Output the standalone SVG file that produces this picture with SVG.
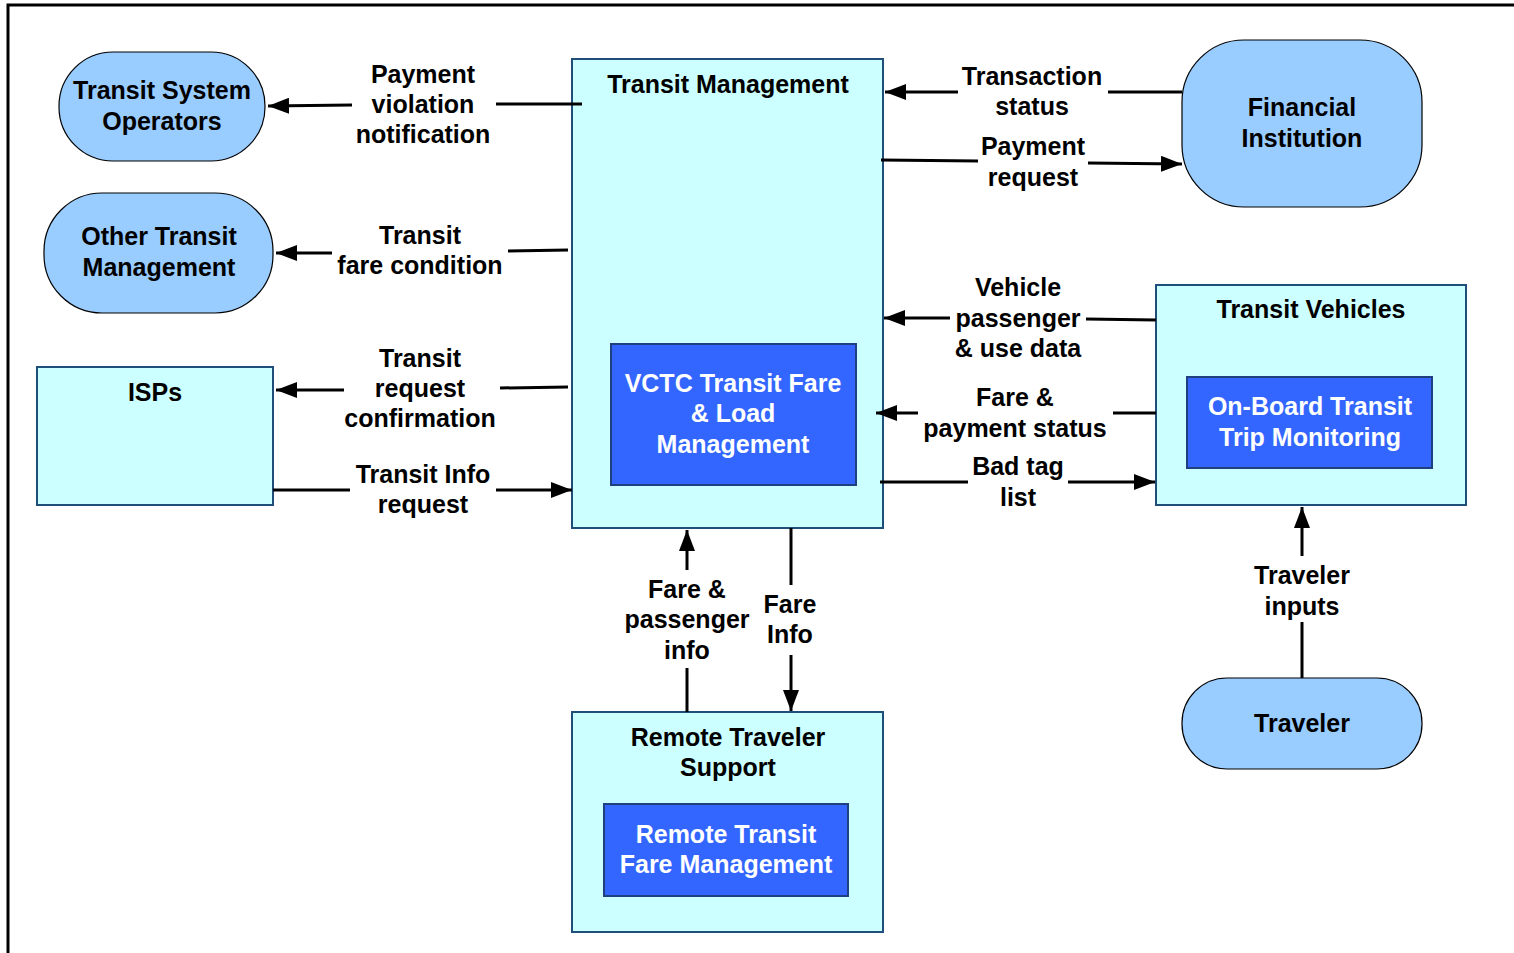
<svg xmlns="http://www.w3.org/2000/svg" width="1514" height="953" viewBox="0 0 1514 953">
<defs>
<marker id="arr" viewBox="0 0 21 16" refX="21" refY="8" markerWidth="21" markerHeight="16" markerUnits="userSpaceOnUse" orient="auto">
<path d="M0,0 L21,8 L0,16 z" fill="#000"/>
</marker>
<style>
.term{fill:#99CCFF;stroke:#000;stroke-width:1.2}
.sys{fill:#CCFFFF;stroke:#1F4E79;stroke-width:2}
.sub{fill:#3366FF;stroke:#1F3F7F;stroke-width:2}
.t{font-family:"Liberation Sans",Arial,sans-serif;font-weight:bold;font-size:25px;text-anchor:middle;fill:#000}
.w{fill:#fff}
.c line{stroke:#000;stroke-width:3}
</style>
</defs>
<rect width="1514" height="953" fill="#fff"/>
<path d="M8,953 L8,5 L1514,5" fill="none" stroke="#000" stroke-width="3"/>

<g id="tso">
<rect class="term" x="59" y="52" width="206" height="109" rx="54" ry="54"/>
<text class="t" x="162" y="99">Transit System</text>
<text class="t" x="162" y="130">Operators</text>
</g>
<g id="otm">
<rect class="term" x="44" y="193" width="229" height="120" rx="58" ry="58"/>
<text class="t" x="159" y="245">Other Transit</text>
<text class="t" x="159" y="276">Management</text>
</g>
<g id="isps">
<rect class="sys" x="37" y="367" width="236" height="138"/>
<text class="t" x="155" y="401">ISPs</text>
</g>
<g id="tm">
<rect class="sys" x="572" y="59" width="311" height="469"/>
<text class="t" x="728" y="93">Transit Management</text>
<g id="vctc">
<rect class="sub" x="611" y="344" width="245" height="141"/>
<text class="t w" x="733" y="392">VCTC Transit Fare</text>
<text class="t w" x="733" y="422">&amp; Load</text>
<text class="t w" x="733" y="453">Management</text>
</g>
</g>
<g id="fi">
<rect class="term" x="1182" y="40" width="240" height="167" rx="62" ry="62"/>
<text class="t" x="1302" y="116">Financial</text>
<text class="t" x="1302" y="147">Institution</text>
</g>
<g id="tv">
<rect class="sys" x="1156" y="285" width="310" height="220"/>
<text class="t" x="1311" y="318">Transit Vehicles</text>
<g id="obtm">
<rect class="sub" x="1187" y="377" width="245" height="91"/>
<text class="t w" x="1310" y="415">On-Board Transit</text>
<text class="t w" x="1310" y="446">Trip Monitoring</text>
</g>
</g>
<g id="traveler">
<rect class="term" x="1182" y="678" width="240" height="91" rx="45" ry="45"/>
<text class="t" x="1302" y="732">Traveler</text>
</g>
<g id="rts">
<rect class="sys" x="572" y="712" width="311" height="220"/>
<text class="t" x="728" y="746">Remote Traveler</text>
<text class="t" x="728" y="776">Support</text>
<g id="rtfm">
<rect class="sub" x="604" y="804" width="244" height="92"/>
<text class="t w" x="726" y="843">Remote Transit</text>
<text class="t w" x="726" y="873">Fare Management</text>
</g>
</g>

<g id="connectors" class="c">
<line x1="582" y1="104" x2="496" y2="104"/>
<line x1="352" y1="105" x2="268" y2="106" marker-end="url(#arr)"/>
<line x1="568" y1="250" x2="508" y2="251"/>
<line x1="332" y1="253" x2="276" y2="253" marker-end="url(#arr)"/>
<line x1="568" y1="387" x2="500" y2="388"/>
<line x1="344" y1="390" x2="276" y2="390" marker-end="url(#arr)"/>
<line x1="273" y1="490" x2="350" y2="490"/>
<line x1="496" y1="490" x2="572" y2="490" marker-end="url(#arr)"/>
<line x1="1182" y1="92" x2="1108" y2="92"/>
<line x1="958" y1="92" x2="885" y2="92" marker-end="url(#arr)"/>
<line x1="881" y1="160" x2="978" y2="161"/>
<line x1="1088" y1="163" x2="1182" y2="164" marker-end="url(#arr)"/>
<line x1="1156" y1="320" x2="1086" y2="319"/>
<line x1="950" y1="318" x2="884" y2="318" marker-end="url(#arr)"/>
<line x1="1156" y1="413" x2="1113" y2="413"/>
<line x1="918" y1="413" x2="876" y2="413" marker-end="url(#arr)"/>
<line x1="880" y1="482" x2="968" y2="482"/>
<line x1="1068" y1="482" x2="1155" y2="482" marker-end="url(#arr)"/>
<line x1="687" y1="712" x2="687" y2="668"/>
<line x1="687" y1="570" x2="687" y2="530" marker-end="url(#arr)"/>
<line x1="791" y1="528" x2="791" y2="585"/>
<line x1="791" y1="655" x2="791" y2="711" marker-end="url(#arr)"/>
<line x1="1302" y1="678" x2="1302" y2="622"/>
<line x1="1302" y1="556" x2="1302" y2="507" marker-end="url(#arr)"/>
</g>

<g id="labels">
<text class="t" x="423" y="83">Payment</text>
<text class="t" x="423" y="113">violation</text>
<text class="t" x="423" y="143">notification</text>
<text class="t" x="420" y="244">Transit</text>
<text class="t" x="420" y="274">fare condition</text>
<text class="t" x="420" y="367">Transit</text>
<text class="t" x="420" y="397">request</text>
<text class="t" x="420" y="427">confirmation</text>
<text class="t" x="423" y="483">Transit Info</text>
<text class="t" x="423" y="513">request</text>
<text class="t" x="1032" y="85">Transaction</text>
<text class="t" x="1032" y="115">status</text>
<text class="t" x="1033" y="155">Payment</text>
<text class="t" x="1033" y="186">request</text>
<text class="t" x="1018" y="296">Vehicle</text>
<text class="t" x="1018" y="327">passenger</text>
<text class="t" x="1018" y="357">&amp; use data</text>
<text class="t" x="1015" y="406">Fare &amp;</text>
<text class="t" x="1015" y="437">payment status</text>
<text class="t" x="1018" y="475">Bad tag</text>
<text class="t" x="1018" y="506">list</text>
<text class="t" x="687" y="598">Fare &amp;</text>
<text class="t" x="687" y="628">passenger</text>
<text class="t" x="687" y="659">info</text>
<text class="t" x="790" y="613">Fare</text>
<text class="t" x="790" y="643">Info</text>
<text class="t" x="1302" y="584">Traveler</text>
<text class="t" x="1302" y="615">inputs</text>
</g>
</svg>
